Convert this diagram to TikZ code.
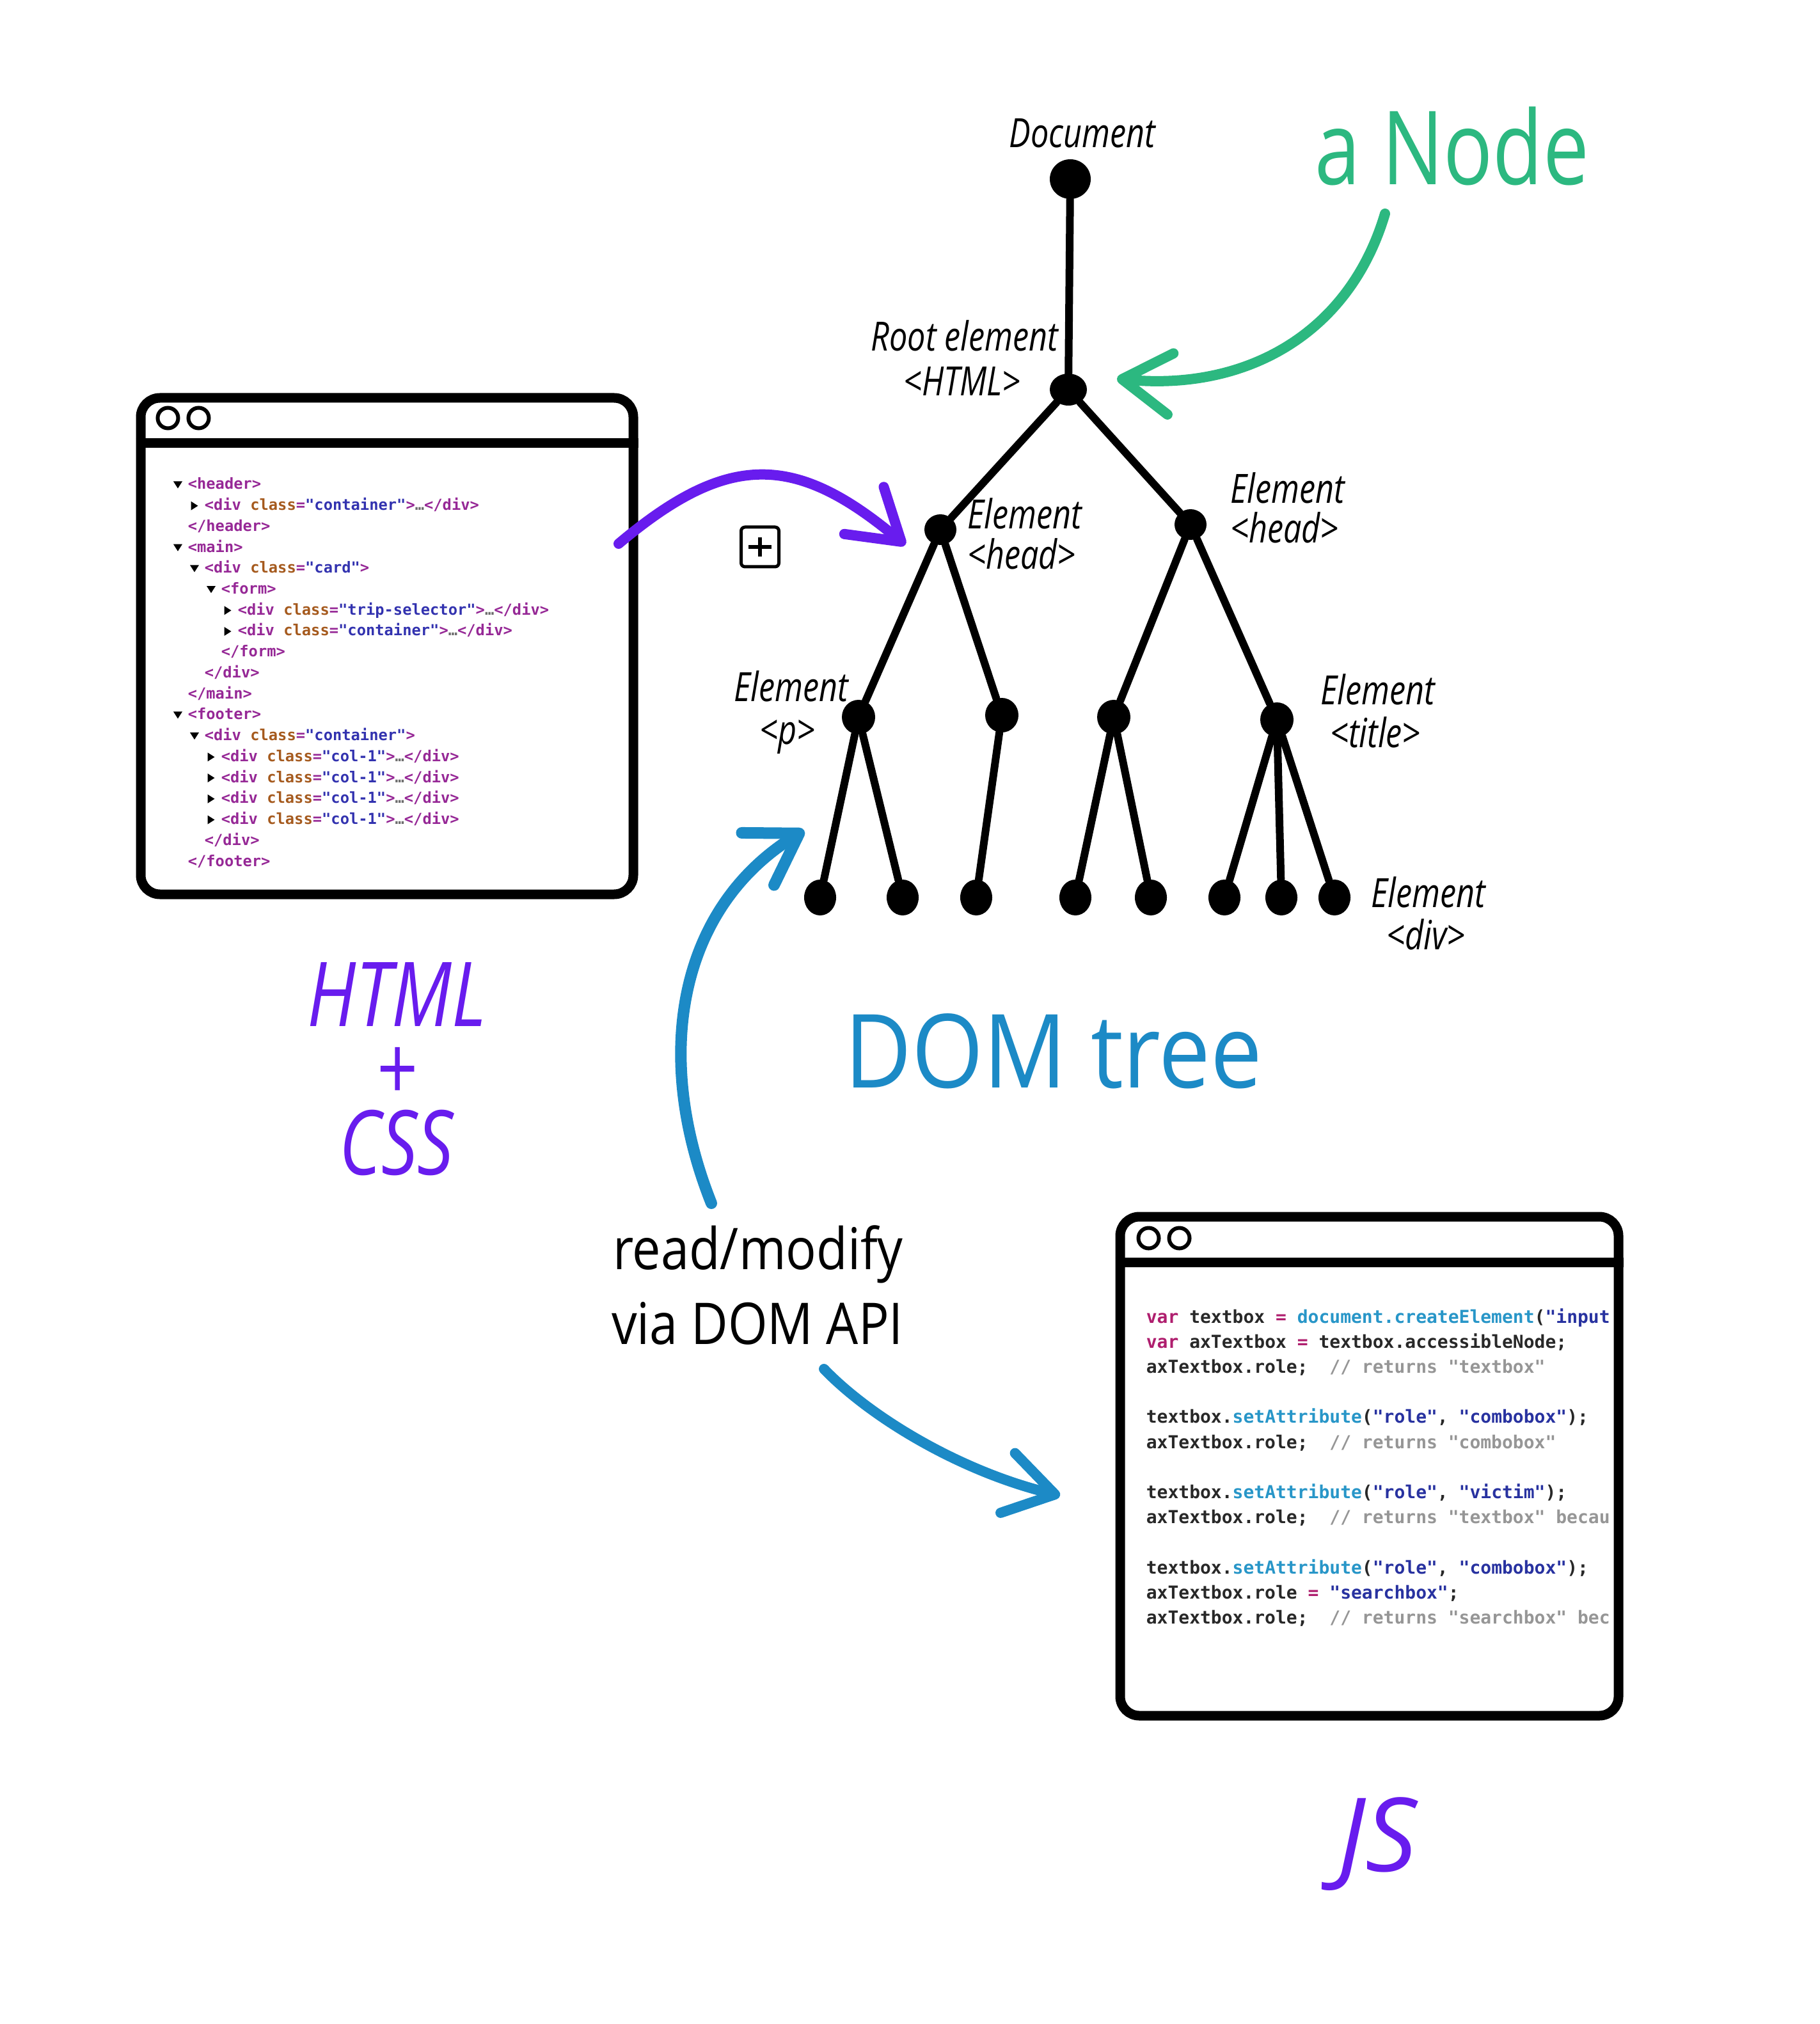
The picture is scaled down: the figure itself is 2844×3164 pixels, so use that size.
\documentclass[tikz,border=0pt]{standalone}
\usepackage{fontspec}
\usetikzlibrary{arrows.meta,shapes.geometric}
\newfontfamily\handS[FakeStretch=0.8]{Open Sans}
\newfontfamily\handM[FakeStretch=0.88]{Open Sans}
\newfontfamily\handD[FakeStretch=0.9]{Open Sans}
\newfontfamily\handW{Open Sans}
\newfontfamily\codefont{DejaVu Sans Mono}
\definecolor{pur}{RGB}{104,28,238}
\definecolor{grn}{RGB}{44,184,128}
\definecolor{blu}{RGB}{28,138,198}
\definecolor{tagc}{RGB}{150,40,150}
\definecolor{attc}{RGB}{165,90,30}
\definecolor{valc}{RGB}{50,50,175}
\definecolor{ellc}{RGB}{110,110,110}
\definecolor{jskw}{RGB}{175,30,110}
\definecolor{jsfn}{RGB}{40,150,200}
\definecolor{jsst}{RGB}{40,50,160}
\definecolor{jscm}{RGB}{150,150,150}
\definecolor{jstx}{RGB}{40,40,40}
\newcommand\tagt[1]{\textcolor{tagc}{#1}}
\newcommand\attt[1]{\textcolor{attc}{#1}}
\newcommand\valt[1]{\textcolor{valc}{#1}}
\newcommand\ellt{\textcolor{ellc}{…}}
\newcommand\kw[1]{\textcolor{jskw}{#1}}
\newcommand\fn[1]{\textcolor{jsfn}{#1}}
\newcommand\st[1]{\textcolor{jsst}{#1}}
\newcommand\cm[1]{\textcolor{jscm}{#1}}
\newcommand\tdn[2]{\fill (#1-7,#2-5.5) -- (#1+7,#2-5.5) -- (#1,#2+5.5) -- cycle;}
\newcommand\trt[2]{\fill (#1-5.5,#2-7) -- (#1-5.5,#2+7) -- (#1+5.5,#2) -- cycle;}
\tikzset{
  dot/.style={ellipse, fill=black, inner sep=0pt},
  edge/.style={line width=3pt, line cap=round},
  win/.style={draw=black, line width=3.75pt, rounded corners=7.5pt, inner sep=0pt},
  winbtn/.style={circle, draw=black, line width=1.5pt, minimum size=8pt, inner sep=0pt},
  lbl/.style={font=\handS\itshape\fontsize{15.75}{16.5}\selectfont, inner sep=0pt, anchor=base},
  htmlcode/.style={font=\codefont\bfseries\fontsize{5.94}{8}\selectfont, inner sep=0pt, anchor=base west},
  jscode/.style={font=\codefont\bfseries\fontsize{7}{9}\selectfont, inner sep=0pt, anchor=base west, text=jstx},
  brush/.style={line width=4pt, line cap=round, line join=round},
  barb/.style={-{Straight Barb[length=19pt,width=24pt,round]}},
}
\begin{document}
\begin{tikzpicture}[x=0.25pt,y=-0.25pt]
\useasboundingbox (0,0) rectangle (2844,3164);
\fill[white] (0,0) rectangle (2844,3164);

% ---------- HTML window ----------
\node[win, minimum width=192.5pt, minimum height=194pt] (htmlwin) at (605,1010) {};
\draw[line width=3.75pt] ([yshift=-19.5pt]htmlwin.north west) -- ([yshift=-19.5pt]htmlwin.north east);
\node[winbtn] (hb1) at ([shift={(12.5pt,-9.75pt)}]htmlwin.north west) {};
\node[winbtn] (hb2) at ([shift={(24.5pt,-9.75pt)}]htmlwin.north west) {};

\tdn{278}{758}
\node[htmlcode] (h1) at (293,765) {\tagt{<header>}};
\trt{304}{790.7}
\node[htmlcode] (h2) at (319,797.7) {\tagt{<div} \attt{class}\tagt{=}\valt{"container"}\tagt{>}\ellt\tagt{</div>}};
\node[htmlcode] (h3) at (293,830.4) {\tagt{</header>}};
\tdn{278}{856.2}
\node[htmlcode] (h4) at (293,863.2) {\tagt{<main>}};
\tdn{304}{888.9}
\node[htmlcode] (h5) at (319,895.9) {\tagt{<div} \attt{class}\tagt{=}\valt{"card"}\tagt{>}};
\tdn{330}{921.6}
\node[htmlcode] (h6) at (345,928.6) {\tagt{<form>}};
\trt{356}{954.3}
\node[htmlcode] (h7) at (371,961.3) {\tagt{<div} \attt{class}\tagt{=}\valt{"trip-selector"}\tagt{>}\ellt\tagt{</div>}};
\trt{356}{987}
\node[htmlcode] (h8) at (371,994) {\tagt{<div} \attt{class}\tagt{=}\valt{"container"}\tagt{>}\ellt\tagt{</div>}};
\node[htmlcode] (h9) at (345,1026.8) {\tagt{</form>}};
\node[htmlcode] (h10) at (319,1059.5) {\tagt{</div>}};
\node[htmlcode] (h11) at (293,1092.2) {\tagt{</main>}};
\tdn{278}{1117.9}
\node[htmlcode] (h12) at (293,1124.9) {\tagt{<footer>}};
\tdn{304}{1150.6}
\node[htmlcode] (h13) at (319,1157.6) {\tagt{<div} \attt{class}\tagt{=}\valt{"container"}\tagt{>}};
\trt{330}{1183.4}
\node[htmlcode] (h14) at (345,1190.4) {\tagt{<div} \attt{class}\tagt{=}\valt{"col-1"}\tagt{>}\ellt\tagt{</div>}};
\trt{330}{1216.1}
\node[htmlcode] (h15) at (345,1223.1) {\tagt{<div} \attt{class}\tagt{=}\valt{"col-1"}\tagt{>}\ellt\tagt{</div>}};
\trt{330}{1248.8}
\node[htmlcode] (h16) at (345,1255.8) {\tagt{<div} \attt{class}\tagt{=}\valt{"col-1"}\tagt{>}\ellt\tagt{</div>}};
\trt{330}{1281.5}
\node[htmlcode] (h17) at (345,1288.5) {\tagt{<div} \attt{class}\tagt{=}\valt{"col-1"}\tagt{>}\ellt\tagt{</div>}};
\node[htmlcode] (h18) at (319,1321.2) {\tagt{</div>}};
\node[htmlcode] (h19) at (293,1354) {\tagt{</footer>}};

% ---------- JS window ----------
\node[win, minimum width=194.75pt, minimum height=195pt] (jswin) at (2140.5,2292) {};
\draw[line width=3.75pt] ([yshift=-19.75pt]jswin.north west) -- ([yshift=-19.75pt]jswin.north east);
\node[winbtn] (jb1) at ([shift={(13pt,-10.25pt)}]jswin.north west) {};
\node[winbtn] (jb2) at ([shift={(25pt,-10.25pt)}]jswin.north west) {};

\node[jscode] (j1) at (1791,2068) {\kw{var} textbox \kw{=} \fn{document.createElement}(\st{"input}};
\node[jscode] (j2) at (1791,2107.2) {\kw{var} axTextbox \kw{=} textbox.accessibleNode;};
\node[jscode] (j3) at (1791,2146.4) {axTextbox.role;\ \ \cm{// returns "textbox"}};
\node[jscode] (j4) at (1791,2224.8) {textbox.\fn{setAttribute}(\st{"role"}, \st{"combobox"});};
\node[jscode] (j5) at (1791,2264) {axTextbox.role;\ \ \cm{// returns "combobox"}};
\node[jscode] (j6) at (1791,2342.4) {textbox.\fn{setAttribute}(\st{"role"}, \st{"victim"});};
\node[jscode] (j7) at (1791,2381.6) {axTextbox.role;\ \ \cm{// returns "textbox" becau}};
\node[jscode] (j8) at (1791,2460) {textbox.\fn{setAttribute}(\st{"role"}, \st{"combobox"});};
\node[jscode] (j9) at (1791,2499.2) {axTextbox.role \kw{=} \st{"searchbox"};};
\node[jscode] (j10) at (1791,2538.4) {axTextbox.role;\ \ \cm{// returns "searchbox" bec}};

% ---------- DOM tree ----------
\node[dot, minimum width=16pt, minimum height=15.5pt] (doc) at (1673,280) {};
\node[dot, minimum width=14.5pt, minimum height=12.5pt] (root) at (1670,609) {};
\node[dot, minimum width=12.5pt, minimum height=12pt] (hl) at (1470,828) {};
\node[dot, minimum width=12.5pt, minimum height=12pt] (hr) at (1861,820) {};
\node[dot, minimum width=13pt, minimum height=13.5pt] (p1) at (1342,1121) {};
\node[dot, minimum width=13pt, minimum height=13.5pt] (p2) at (1566,1118) {};
\node[dot, minimum width=13pt, minimum height=13.5pt] (p3) at (1741,1121) {};
\node[dot, minimum width=13pt, minimum height=13.5pt] (p4) at (1996,1125) {};
\foreach \n/\x in {l1/1282,l2/1411,l3/1526,l4/1681,l5/1799,l6/1914,l7/2003,l8/2086}
  \node[dot, minimum width=12.5pt, minimum height=14pt] (\n) at (\x,1403) {};
\foreach \a/\b in {doc/root,root/hl,root/hr,hl/p1,hl/p2,hr/p3,hr/p4,p1/l1,p1/l2,p2/l3,p3/l4,p3/l5,p4/l6,p4/l7,p4/l8}
  \draw[edge] (\a) -- (\b);

% ---------- tree labels ----------
\node[lbl] (tdoc) at (1692,231) {Document};
\node[lbl] (troot1) at (1508,549) {Root element};
\node[lbl] (troot2) at (1504,619) {<HTML>};
\node[lbl] (thl1) at (1602,827) {Element};
\node[lbl] (thl2) at (1597,890) {<head>};
\node[lbl] (thr1) at (2013,787) {Element};
\node[lbl] (thr2) at (2008,849) {<head>};
\node[lbl] (tp1) at (1237,1096) {Element};
\node[lbl] (tp2) at (1231,1163) {<p>};
\node[lbl] (tt1) at (2154,1101) {Element};
\node[lbl] (tt2) at (2150,1168) {<title>};
\node[lbl] (td1) at (2233,1418) {Element};
\node[lbl] (td2) at (2229,1484) {<div>};

% ---------- big labels ----------
\node[font=\handS\fontsize{40}{48}\selectfont, text=grn, anchor=base, inner sep=0pt] (anode) at (2270,289) {a Node};
\node[font=\handD\fontsize{40}{48}\selectfont, text=blu, anchor=base, inner sep=0pt] (domtree) at (1647,1700) {DOM tree};
\node[font=\handS\itshape\fontsize{35}{29}\selectfont, text=pur, anchor=north, inner sep=0pt, align=center] (thtmlcss) at (620,1504) {HTML\\+\\CSS};
\node[font=\handW\itshape\fontsize{40}{48}\selectfont, text=pur, anchor=base, inner sep=0pt] (tjs) at (2153,2925) {JS};
\node[font=\handM\fontsize{22.5}{29}\selectfont, anchor=base, inner sep=0pt] (trm1) at (1185,1984) {read/modify};
\node[font=\handM\fontsize{22.5}{29}\selectfont, anchor=base, inner sep=0pt] (trm2) at (1184,2101) {via DOM API};

% ---------- plus icon ----------
\node[draw, line width=1.25pt, rounded corners=1.5pt, minimum width=14.75pt, minimum height=15.5pt, inner sep=0pt] (plusbox) at (1188,855) {};
\draw[line width=1.3pt] ([xshift=-4.5pt]plusbox.center) -- ([xshift=4.5pt]plusbox.center);
\draw[line width=1.3pt] ([yshift=-3.75pt]plusbox.center) -- ([yshift=3.75pt]plusbox.center);

% ---------- arrows ----------
\coordinate (pA) at (967,850);
\coordinate (pB) at (1415,852);
\draw[brush, barb, pur] (pA) .. controls (1137,707) and (1242,707) .. (pB);
\coordinate (gA) at (2165,334);
\coordinate (gB) at (1746,592);
\draw[brush, barb, grn] (gA) .. controls (2110,520) and (1950,612) .. (gB);
\coordinate (bA) at (1112,1881);
\coordinate (bB) at (1257,1298);
\draw[brush, barb, blu, line width=4.5pt] (bA) .. controls (1020,1650) and (1060,1420) .. (bB);
\coordinate (cA) at (1288,2140);
\coordinate (cB) at (1657,2338);
\draw[brush, barb, blu] (cA) .. controls (1360,2215) and (1500,2300) .. (cB);
\end{tikzpicture}
\end{document}
